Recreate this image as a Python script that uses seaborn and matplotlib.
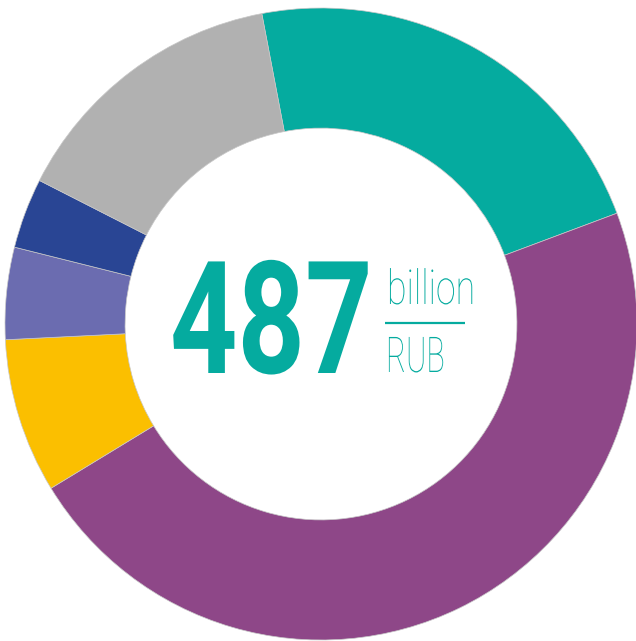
import matplotlib
matplotlib.use("Agg")
import matplotlib.pyplot as plt
import seaborn as sns
from matplotlib.patheffects import AbstractPathEffect
from matplotlib.transforms import Affine2D, Bbox

# Data (billion RUB), clockwise from the top
categories = ["Segment 1", "Segment 2", "Segment 3", "Segment 4", "Segment 5", "Segment 6"]
values = [108.6, 228.9, 38.5, 22.9, 17.5, 70.6]
colors = ["#05AB9F", "#8E4788", "#FBBF00", "#6B6CB0", "#294594", "#B1B1B1"]
total_label = "487"
unit_top = "billion"
unit_bottom = "RUB"

sns.set_theme(style="white")
teal = "#05AB9F"
FONT = ["Roboto", "DejaVu Sans"]


class Squeeze(AbstractPathEffect):
    """Draw the text glyphs compressed horizontally (condensed look)."""
    def __init__(self, sx):
        super().__init__()
        self.sx = sx

    def draw_path(self, renderer, gc, tpath, affine, rgbFace=None):
        renderer.draw_path(gc, tpath, Affine2D().scale(self.sx, 1) + affine, rgbFace)


def squeeze_text(t, sx):
    t.set_path_effects([Squeeze(sx)])
    orig = t.get_window_extent

    def gwe(renderer=None, dpi=None):
        bb = orig(renderer, dpi)
        return Bbox.from_extents(bb.x0, bb.y0, bb.x0 + (bb.x1 - bb.x0) * sx, bb.y1)
    t.get_window_extent = gwe
    return t


W, H = 636, 641
fig = plt.figure(figsize=(W / 100, H / 100), dpi=100)
ax = fig.add_axes([0, 0, 1, 1])
ax.set_axis_off()

cx, cy, R = 321, 324, 316
ax.pie(values, colors=colors, startangle=100.8, counterclock=False,
       radius=1.0, wedgeprops=dict(width=0.38, edgecolor="#c8c8c8", linewidth=0.5))
ax.set_aspect("auto")
ax.set_xlim(-cx / R, (W - cx) / R)
ax.set_ylim(-(H - cy) / R, cy / R)


def px(x):
    return (x - cx) / R


def py(y):
    return (cy - y) / R


t1 = ax.text(px(170), py(373), total_label, ha="left", va="baseline",
             fontsize=113, fontweight="bold", color=teal, family=FONT)
squeeze_text(t1, 0.75)
t2 = ax.text(px(387), py(304), unit_top, ha="left", va="baseline",
             fontsize=34.5, fontweight="light", color=teal, family=FONT)
squeeze_text(t2, 0.745)
t3 = ax.text(px(386), py(372), unit_bottom, ha="left", va="baseline",
             fontsize=35.5, fontweight="light", color=teal, family=FONT)
squeeze_text(t3, 0.62)
ax.plot([px(385), px(465)], [py(323), py(323)], color=teal, lw=1.6,
        solid_capstyle="butt")

fig.savefig("out.png", dpi=100, facecolor="white")
